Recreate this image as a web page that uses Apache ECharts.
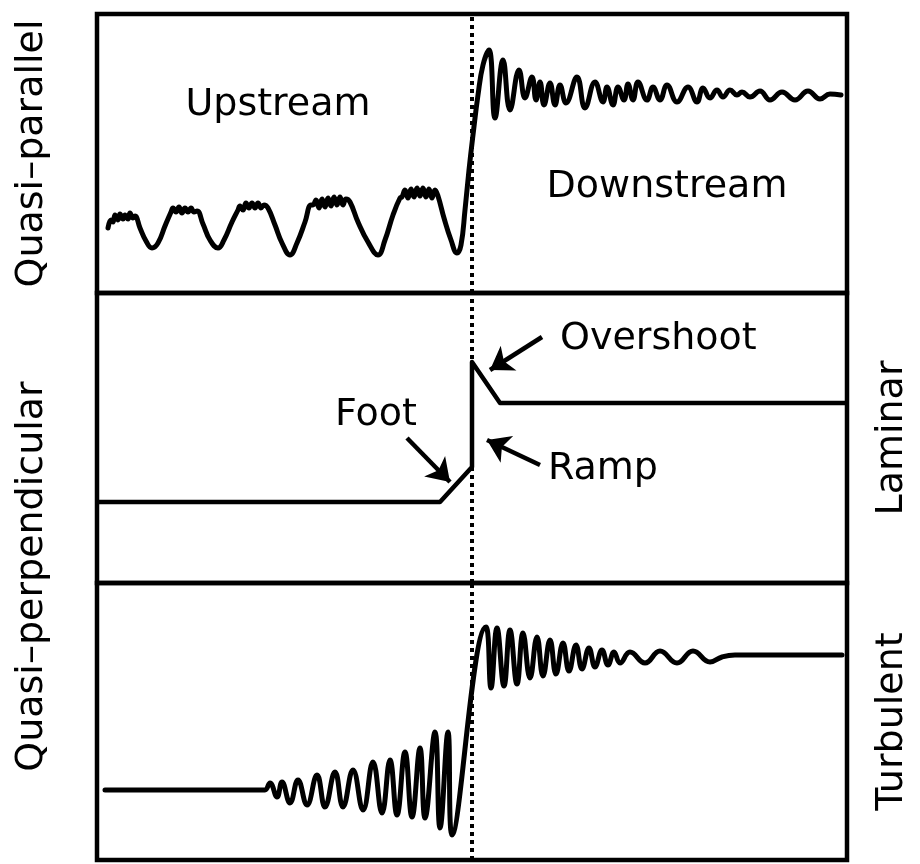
<!DOCTYPE html>
<html>
<head>
<meta charset="utf-8">
<script src="https://cdn.jsdelivr.net/npm/echarts@6/dist/echarts.min.js"></script>
<style>
  html, body { margin: 0; padding: 0; background: #ffffff; }
  #chart { width: 920px; height: 864px; }
</style>
</head>
<body>
<div id="chart"></div>
<script>
// Schematic magnetic-field profiles across a collisionless shock.
// x: distance along the shock normal (0 = shock front), y: field magnitude (arbitrary units).

// Quasi-parallel shock: upstream ULF waves with whistler ripples, then a noisy downstream
const quasiParallelField = [
  [-364,65],[-361,73],[-359,71],[-357,78],[-354,73],[-352,79],[-349,74],[-347,78],[-344,74],[-342,80],[-339,75],[-337,77],
  [-332,65],[-326,52],[-320,45],[-314,50],[-307,67],[-301,81],
  [-299,85],[-296,81],[-293,86],[-290,80],[-287,85],[-284,81],[-281,85],[-278,81],[-275,82],
  [-269,69],[-262,53],[-254,45],[-248,53],[-240,71],[-234,83],
  [-232,87],[-229,83],[-226,90],[-223,85],[-220,90],[-217,85],[-214,90],[-211,85],[-208,88],[-204,85],
  [-197,68],[-190,50],[-182,38],[-175,50],[-167,71],[-161,88],
  [-159,88],[-156,93],[-153,85],[-150,94],[-147,86],[-144,95],[-141,87],[-138,96],[-135,88],[-132,96],[-129,88],[-126,94],[-122,91],
  [-114,71],[-104,51],[-94,38],[-87,53],[-79,78],[-72,95],
  [-70,96],[-67,103],[-64,95],[-61,104],[-58,96],[-55,105],[-52,97],[-49,105],[-46,96],[-43,104],[-40,95],[-37,103],[-34,97],
  [-28,75],[-21,53],[-15,40],[-11,48],[-7,83],[-3,123],[1,158],[6,198],[11,228],[17,243],
  [23,175],[31,233],[38,183],[47,223],[53,195],[60,216],[64,193],[68,211],[72,188],[78,210],[83,188],[88,208],[94,190],
  [105,216],[113,185],[123,211],[131,191],[135,206],[141,188],[146,206],[152,193],[156,209],[161,193],[166,211],[175,193],
  [181,206],[188,193],[195,208],[205,191],[216,206],[225,191],[231,205],[238,195],[245,203],[251,196],[258,203],[265,198],
  [270,201],[278,196],[288,202],[298,193],[310,201],[323,193],[336,202],[348,194],[358,199],[369,198]
];

// Laminar quasi-perpendicular shock: foot, ramp, overshoot, downstream plateau
const laminarField = [[-374,81],[-32,81],[0,116],[0,221],[28,180],[373,180]];

// Turbulent quasi-perpendicular shock: growing upstream whistlers, ramp, decaying downstream waves
const turbulentField = [
  [-367,70],[-212,70],[-207,70],[-202,77],[-195,63],[-190,78],[-182,57],[-174,80],[-165,55],[-155,85],[-147,53],
  [-137,88],[-129,53],[-119,90],[-109,50],[-99,98],[-90,47],[-82,100],[-75,45],[-67,108],[-60,43],[-52,112],[-47,42],
  [-37,128],[-32,32],[-24,128],[-20,25],[14,233],
  [19,172],[25,232],[32,174],[38,230],[45,176],[51,227],[58,182],[65,223],[71,184],[78,220],[84,186],[91,217],[97,189],
  [104,215],[110,191],[117,212],[123,193],[130,210],[136,195],[142,208],[148,197],[158,208],[173,197],[188,209],[205,197],
  [221,209],[238,198],[250,203],[263,205],[370,205]
];

// Region names in the quasi-parallel panel
const quasiParallelNotes = [
  { name: 'Upstream', value: [-194, 188] },
  { name: 'Downstream', value: [195, 106] }
];

// Structure names in the laminar panel
const laminarNotesCentered = [{ name: 'Foot', value: [-96, 168] }];
const laminarNotesLeft = [
  { name: 'Overshoot', value: [88, 244] },
  { name: 'Ramp', value: [76, 114] }
];

// Arrows pointing from the names to the profile features: [tail, head]
const laminarArrows = [
  [[70, 246], [18, 213]],
  [[68, 118], [15, 143]],
  [[-65, 145], [-22, 101]]
];

const panelTitles = ['Quasi–parallel', 'Quasi–perpendicular', 'Laminar', 'Turbulent'];
const shockPosition = 0;

const TEXT_FONT = "'DejaVu Sans', sans-serif";
const INK = '#000000';

const chart = echarts.init(document.getElementById('chart'), null, { renderer: 'canvas' });

const gridBase = { left: 97, right: 73, show: true, borderColor: INK, borderWidth: 4.5, backgroundColor: 'transparent' };
const hiddenX = (gi) => ({ type: 'value', gridIndex: gi, min: -375, max: 375, show: false });
const nameOnlyY = (gi, max, name, position, gap) => ({
  type: 'value', gridIndex: gi, min: 0, max: max, position: position,
  axisLine: { show: false }, axisTick: { show: false }, axisLabel: { show: false }, splitLine: { show: false },
  name: name, nameLocation: 'middle', nameRotate: 90, nameGap: gap,
  nameTextStyle: { fontFamily: TEXT_FONT, fontSize: 38, color: INK }
});
const plainY = (gi, max) => ({
  type: 'value', gridIndex: gi, min: 0, max: max, show: false
});

const shockLine = {
  silent: true, symbol: 'none', label: { show: false },
  lineStyle: { color: INK, width: 4, type: [4, 4], opacity: 1 },
  emphasis: { disabled: true },
  data: [{ xAxis: shockPosition }]
};

const profileLine = (gi, data, smooth, width) => ({
  type: 'line', xAxisIndex: gi, yAxisIndex: gi, data: data, smooth: smooth,
  symbol: 'none', animation: false,
  lineStyle: { color: INK, width: width, join: 'round', cap: 'round' },
  markLine: shockLine
});

const textNotes = (gi, data, position) => ({
  type: 'scatter', xAxisIndex: gi, yAxisIndex: gi, data: data,
  symbol: 'circle', symbolSize: 0, itemStyle: { color: INK, opacity: 1 }, silent: true, animation: false,
  emphasis: { disabled: true },
  label: {
    show: true, formatter: '{b}', position: position, distance: 0, opacity: 1,
    fontFamily: TEXT_FONT, fontSize: 38, color: INK, textBorderWidth: 0
  }
});

const option = {
  backgroundColor: '#ffffff',
  animation: false,
  grid: [
    Object.assign({ top: 14, height: 279 }, gridBase),
    Object.assign({ top: 293, height: 290 }, gridBase),
    Object.assign({ top: 583, height: 277 }, gridBase),
    { left: 97, right: 73, top: 293, height: 567, show: false }
  ],
  xAxis: [hiddenX(0), hiddenX(1), hiddenX(2), hiddenX(3)],
  yAxis: [
    nameOnlyY(0, 279, panelTitles[0], 'left', 46),
    plainY(1, 290),
    plainY(2, 277),
    nameOnlyY(3, 567, panelTitles[1], 'left', 46),
    nameOnlyY(1, 290, panelTitles[2], 'right', 26),
    nameOnlyY(2, 277, panelTitles[3], 'right', 26)
  ],
  series: [
    profileLine(0, quasiParallelField, 0.45, 5),
    profileLine(1, laminarField, false, 4.5),
    profileLine(2, turbulentField, 0.45, 5),
    textNotes(0, quasiParallelNotes, 'inside'),
    textNotes(1, laminarNotesCentered, 'inside'),
    textNotes(1, laminarNotesLeft, 'right'),
    {
      type: 'lines', coordinateSystem: 'cartesian2d', xAxisIndex: 1, yAxisIndex: 1,
      data: laminarArrows.map(a => ({ coords: a })),
      symbol: ['none', 'arrow'], symbolSize: [0, 22], silent: true, animation: false,
      lineStyle: { color: INK, width: 4.5, opacity: 1, curveness: 0 }
    }
  ]
};

chart.setOption(option);
</script>
</body>
</html>
